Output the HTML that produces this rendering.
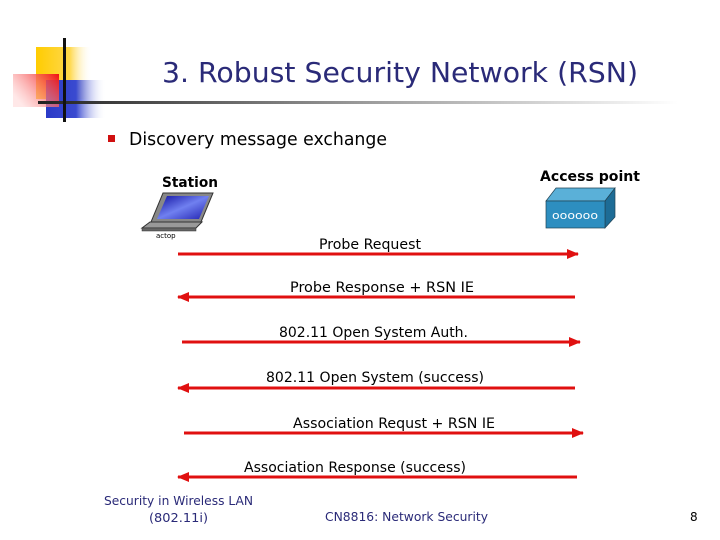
<!DOCTYPE html>
<html><head><meta charset="utf-8"><style>
html,body{margin:0;padding:0;background:#fff;}
svg{display:block;}
text{font-family:"DejaVu Sans","Liberation Sans",sans-serif;}
</style></head><body>
<svg width="720" height="540" viewBox="0 0 720 540" xmlns="http://www.w3.org/2000/svg">
<defs>
<linearGradient id="gy" x1="0" x2="1"><stop offset="0" stop-color="#ffcc00"/><stop offset="0.6" stop-color="#ffd84a"/><stop offset="1" stop-color="#fff" stop-opacity="0"/></linearGradient>
<linearGradient id="gb" x1="0" x2="1"><stop offset="0" stop-color="#2a3ac8"/><stop offset="0.5" stop-color="#3a4ad0"/><stop offset="1" stop-color="#fff" stop-opacity="0"/></linearGradient>
<linearGradient id="gr" x1="1" x2="0" y1="0" y2="0.6"><stop offset="0" stop-color="#f01010"/><stop offset="1" stop-color="#ffd0d0" stop-opacity="0.5"/></linearGradient>
<linearGradient id="gl" x1="0" x2="1"><stop offset="0" stop-color="#222"/><stop offset="0.5" stop-color="#999"/><stop offset="1" stop-color="#fff"/></linearGradient>
<linearGradient id="gs" x1="0" x2="1" y1="0" y2="1"><stop offset="0" stop-color="#1010a0"/><stop offset="0.5" stop-color="#7080f0"/><stop offset="1" stop-color="#2020b0"/></linearGradient>
<marker id="ah" markerWidth="12" markerHeight="10" refX="11" refY="5" orient="auto" markerUnits="userSpaceOnUse"><path d="M0,0 L12,5 L0,10 Z" fill="#e01010"/></marker>
</defs>
<rect x="36" y="47" width="56" height="52" fill="url(#gy)"/>
<rect x="46" y="80" width="60" height="38" fill="url(#gb)"/>
<rect x="13" y="74" width="46" height="33" fill="url(#gr)"/>
<rect x="38" y="101" width="640" height="3" fill="url(#gl)"/>
<rect x="63" y="38" width="3" height="84" fill="#111"/>
<text x="162" y="82" font-size="28" fill="#2a2a78" textLength="476" lengthAdjust="spacingAndGlyphs">3. Robust Security Network (RSN)</text>
<rect x="108" y="135" width="7" height="7" fill="#d01010"/>
<text x="129" y="145" font-size="18" fill="#000" textLength="258" lengthAdjust="spacingAndGlyphs">Discovery message exchange</text>
<text x="162" y="187" font-size="14" font-weight="bold" fill="#000" textLength="56" lengthAdjust="spacingAndGlyphs">Station</text>
<text x="540" y="181" font-size="14" font-weight="bold" fill="#000" textLength="100" lengthAdjust="spacingAndGlyphs">Access point</text>
<!-- laptop -->
<polygon points="163,193 213,193 201,222 151,222" fill="#888" stroke="#333" stroke-width="1"/>
<polygon points="167,196 209,196 199,219 157,219" fill="url(#gs)"/>
<polygon points="150,222 202,222 196,228 142,228" fill="#999" stroke="#333" stroke-width="1"/>
<rect x="142" y="228" width="54" height="3" fill="#666" stroke="#333" stroke-width="0.5"/>
<text x="156" y="238" font-size="7" fill="#000">actop</text>
<!-- AP -->
<polygon points="546,201 556,188 615,188 605,201" fill="#5ab0d8" stroke="#245" stroke-width="0.7"/>
<polygon points="605,201 615,188 615,217 605,228" fill="#1d6c96" stroke="#245" stroke-width="0.7"/>
<rect x="546" y="201" width="59" height="27" fill="#2d8ec0" stroke="#245" stroke-width="0.7"/>
<text x="552" y="219" font-size="11" fill="#fff" textLength="46" lengthAdjust="spacingAndGlyphs">oooooo</text>
<g stroke="#e01010" stroke-width="3" fill="none">
<line x1="178" y1="254" x2="578" y2="254" marker-end="url(#ah)"/>
<line x1="575" y1="297" x2="178" y2="297" marker-end="url(#ah)"/>
<line x1="182" y1="342" x2="580" y2="342" marker-end="url(#ah)"/>
<line x1="575" y1="388" x2="178" y2="388" marker-end="url(#ah)"/>
<line x1="184" y1="433" x2="583" y2="433" marker-end="url(#ah)"/>
<line x1="577" y1="477" x2="178" y2="477" marker-end="url(#ah)"/>
</g>
<g font-size="14" fill="#000">
<text x="319" y="249" textLength="102" lengthAdjust="spacingAndGlyphs">Probe Request</text>
<text x="290" y="292" textLength="184" lengthAdjust="spacingAndGlyphs">Probe Response + RSN IE</text>
<text x="279" y="337" textLength="189" lengthAdjust="spacingAndGlyphs">802.11 Open System Auth.</text>
<text x="266" y="382" textLength="218" lengthAdjust="spacingAndGlyphs">802.11 Open System (success)</text>
<text x="293" y="428" textLength="202" lengthAdjust="spacingAndGlyphs">Association Requst + RSN IE</text>
<text x="244" y="472" textLength="222" lengthAdjust="spacingAndGlyphs">Association Response (success)</text>
</g>
<g font-size="12" fill="#2a2a78">
<text x="104" y="505" textLength="149" lengthAdjust="spacingAndGlyphs">Security in Wireless LAN</text>
<text x="149" y="522" textLength="59" lengthAdjust="spacingAndGlyphs">(802.11i)</text>
<text x="325" y="521" textLength="163" lengthAdjust="spacingAndGlyphs">CN8816: Network Security</text>
</g>
<text x="690" y="521" font-size="12" fill="#000">8</text>
</svg>
</body></html>
